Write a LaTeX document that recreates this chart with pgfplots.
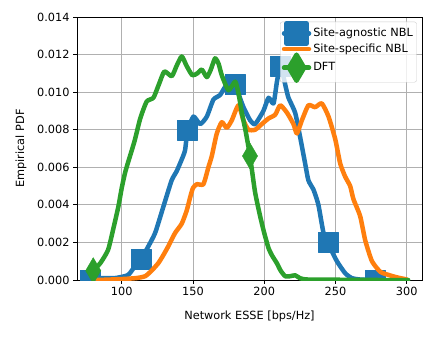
\documentclass[border=0pt]{standalone}
\usepackage{pgfplots}
\pgfplotsset{compat=1.18}
\usepackage{fontspec}
\setmainfont{DejaVu Sans}
\definecolor{tabblue}{HTML}{1F77B4}
\definecolor{taborange}{HTML}{FF7F0E}
\definecolor{tabgreen}{HTML}{2CA02C}
\definecolor{gridgray}{HTML}{B0B0B0}
\begin{document}
\fontsize{11.3}{13}\selectfont
\begin{tikzpicture}
\useasboundingbox (-77pt,-57pt) rectangle (359pt,280pt);
\begin{axis}[
  scale only axis,
  width=345pt, height=263pt,
  xmin=68.6, xmax=310.7,
  ymin=0, ymax=0.014,
  xtick={100,150,200,250,300},
  ytick={0,0.002,0.004,0.006,0.008,0.010,0.012,0.014},
  scaled y ticks=false,
  yticklabel style={/pgf/number format/fixed,/pgf/number format/fixed zerofill,/pgf/number format/precision=3},
  /pgf/number format/assume math mode=true,
  tick label style={font=\fontsize{11.3}{13}\selectfont},
  label style={font=\fontsize{11.3}{13}\selectfont},
  xlabel={Network ESSE [bps/Hz]},
  ylabel={Empirical PDF},
  xlabel style={at={(axis description cs:0.5,-0.137)},anchor=center},
  ylabel style={at={(axis description cs:-0.162,0.5)},anchor=center,rotate=0},
  tick align=outside,
  tick pos=left,
  major tick length=3.5pt,
  tick style={black,line width=0.8pt},
  axis line style={line width=0.8pt},
  grid=major,
  major grid style={gridgray,line width=0.8pt},
  clip marker paths=true,
  legend cell align=left,
  legend style={at={(rel axis cs:0.9846,0.982)},anchor=north east,
    draw=black!20,fill=white,fill opacity=0.8,draw opacity=1,text opacity=1,rounded corners=2pt,
    font=\fontsize{11.3}{13}\selectfont,inner sep=1.5pt,row sep=-1.5pt},
  legend image post style={fill opacity=1,draw opacity=1},
  legend image code/.code={\draw[mark repeat=2,mark phase=2] plot coordinates {(0pt,0pt) (12.5pt,0pt) (25pt,0pt)};},
  every axis plot/.append style={line cap=round,line join=round},
]
% Site-agnostic NBL
\addplot[tabblue,line width=4.5pt,no marks,forget plot,smooth,tension=0.35] coordinates {
(78,0) (85,0.0001) (95,0.0001) (102,0.0002) (105,0.0003) (109,0.0007) (113.5,0.0011)
(118,0.0017) (123.4,0.0025) (129.2,0.0039) (135,0.0053) (138.6,0.0058) (142,0.0064)
(144.4,0.0069) (146.1,0.0079) (150.3,0.0087) (155,0.0083) (159.7,0.0087) (164.3,0.0096)
(169,0.00985) (173.7,0.0104) (179.5,0.0105) (182,0.0099) (185.4,0.0092) (190.1,0.0085) (193.6,0.0083)
(199.4,0.0090) (203,0.0097) (206.5,0.0094) (209,0.0106) (211.5,0.0114) (215,0.0103) (217,0.0097)
(221.7,0.0089) (225.2,0.0076) (228.7,0.0062) (231,0.0053) (234.6,0.0048) (238,0.0040)
(241.6,0.0025) (245,0.0019) (251,0.001) (256.8,0.00036) (261.5,0.0001) (268,0.00002) (280,0)
};
\addplot[only marks,forget plot,mark=square*,mark size=10pt,color=tabblue,mark options={draw=none,fill=tabblue}] coordinates {
(78,0) (113.5,0.0011) (146.1,0.0080) (179.5,0.0104) (211.5,0.0114) (245,0.0020) (278,0)
};
% Site-specific NBL
\addplot[taborange,line width=4.5pt,no marks,forget plot,smooth,tension=0.35] coordinates {
(83,0) (100,0.00005) (110,0.0001) (116.4,0.0002) (121,0.0005) (125.7,0.0009) (129,0.0013)
(132.7,0.0018) (137.4,0.0025) (142.1,0.0030) (145.6,0.0037) (148,0.0044) (150,0.0049)
(152.7,0.0051) (157.3,0.0051) (160.8,0.006) (163.2,0.0066) (166.7,0.0078) (170.2,0.0084)
(173.7,0.0081) (177.2,0.0085) (181.9,0.0093) (185.4,0.0085) (188.9,0.0080) (193.6,0.0080)
(198.3,0.0083) (203,0.0086) (207.7,0.0088) (211.2,0.0093) (216,0.0089) (220.5,0.0083)
(222.9,0.0078) (226.4,0.0085) (231,0.0093) (235.7,0.0092) (240.4,0.0094) (245.1,0.0087)
(249.8,0.0075) (253.3,0.0062) (256.8,0.0055) (260.3,0.0050) (262.6,0.0043) (267.3,0.0034)
(270.9,0.0021) (275.6,0.0010) (281.4,0.00044) (287.2,0.00027) (293.1,0.00014) (300,0.00003)
};
% DFT
\addplot[tabgreen,line width=4.5pt,no marks,forget plot,smooth,tension=0.35] coordinates {
(79,0.0004) (80,0.0005) (85,0.0009) (90.4,0.0016) (94,0.0027) (97.6,0.0039) (100,0.0049)
(102.3,0.0057) (104.6,0.0063) (109,0.0074) (113,0.0086) (117.5,0.0095) (122.2,0.0097)
(126,0.0104) (129.9,0.0111) (135.1,0.01085) (138.5,0.0114) (142.1,0.0119) (145.5,0.0114)
(149.5,0.0109) (153,0.0110) (156.2,0.0112) (159.7,0.0108) (162.5,0.0112) (165.5,0.0118)
(168,0.0115) (170.2,0.0109) (174.9,0.0101) (179.6,0.01056) (182,0.0099) (184.3,0.0089)
(187,0.0079) (190,0.0066) (193.5,0.0047) (197.1,0.0034) (200,0.0025) (203,0.0017)
(205.5,0.0013) (208.8,0.0009) (211.5,0.0005) (214.7,0.0002) (218,0.0002) (221.7,0.00025)
(225,0.0001) (229,0.00003) (240,0.00002) (260,0.00001) (280,0) (301,0)
};
\addplot[only marks,forget plot,mark=diamond*,mark size=13pt,color=tabgreen,mark options={draw=none,fill=tabgreen,xscale=0.78}] coordinates {
(80,0.0005) (190,0.0066)
};
\addlegendimage{tabblue,line width=4.5pt,mark=square*,mark size=10pt,mark options={draw=none,fill=tabblue}}
\addlegendentry{Site-agnostic NBL}
\addlegendimage{taborange,line width=4.5pt}
\addlegendentry{Site-specific NBL}
\addlegendimage{tabgreen,line width=4.5pt,mark=diamond*,mark size=13pt,mark options={draw=none,fill=tabgreen,xscale=0.78}}
\addlegendentry{DFT}
\end{axis}
\end{tikzpicture}
\end{document}
